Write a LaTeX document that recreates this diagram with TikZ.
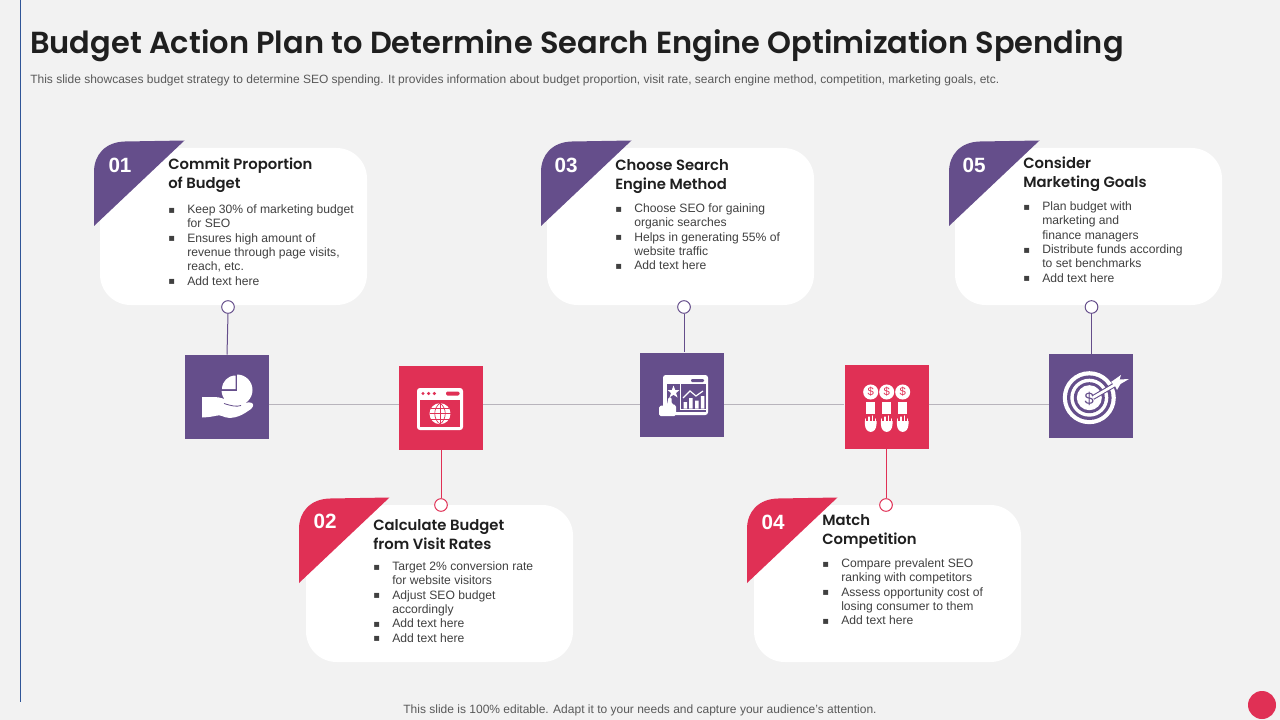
\documentclass[tikz,border=0pt]{standalone}
\usepackage{fontspec}
\setmainfont{Liberation Sans}
\newfontfamily\headf{Poppins SemiBold}
\newfontfamily\titlef{Poppins SemiBold}
\newfontfamily\symf{DejaVu Sans}
\definecolor{bgc}{HTML}{F2F2F2}
\definecolor{purp}{HTML}{654E8B}
\definecolor{crim}{HTML}{E03055}
\definecolor{bodyc}{HTML}{404040}
\definecolor{headc}{HTML}{1F1F1F}
\definecolor{subc}{HTML}{595959}
\definecolor{axisc}{HTML}{B8B4BC}
\definecolor{edgeb}{HTML}{2F5597}
\newcommand{\bl}[1]{\makebox[14.25pt][l]{\raisebox{0.3pt}{\symf\fontsize{7.5}{7.5}\selectfont ▪}}#1}
\newcommand{\cl}[1]{\hspace*{14.25pt}#1}
\tikzset{
  x=0.75pt,y=-0.75pt,
  cardbox/.style={fill=white,draw=none,rounded corners=23pt,minimum width=200.25pt,minimum height=117.75pt,inner sep=0pt},
  iconbox/.style={draw=none,minimum width=63pt,minimum height=63pt,inner sep=0pt},
  pin/.style={circle,draw=#1,fill=white,line width=0.75pt,minimum size=9.5pt,inner sep=0pt},
  stem/.style={draw=#1,line width=0.75pt},
  numtext/.style={text=white,font=\fontsize{15.5}{15.5}\selectfont\bfseries,inner sep=0pt},
  headtext/.style={text=headc,font=\headf\fontsize{11.1}{14.2}\selectfont,align=left,inner sep=0pt,anchor=north west},
  bodytext/.style={text=bodyc,font=\fontsize{9.1}{10.75}\selectfont,align=left,inner sep=0pt,anchor=north west},
}
% #1 x of lower-left tip, #2 y of lower-left tip, #3 colour
\newcommand{\cardtag}[3]{%
  \fill[#3,shift={(#1,#2)}] (0,0) -- (0,-54) .. controls (0,-71) and (11,-84) .. (31,-84.5) -- (90.5,-85.5) -- cycle;}
\begin{document}
\begin{tikzpicture}
\useasboundingbox (0,0) rectangle (1280,720);
\fill[bgc] (0,0) rectangle (1280,720);
\draw[edgeb,line width=0.75pt] (20,0) -- (20,702);
\node[anchor=west,inner sep=0pt,text=headc,font=\titlef\fontsize{22.85}{24}\selectfont] (title) at (30,46) {Budget Action Plan to Determine Search Engine Optimization Spending};
\node[anchor=west,inner sep=0pt,text=subc,font=\fontsize{9}{11}\selectfont] (subtitle) at (30,80) {This slide showcases budget strategy to determine SEO spending. It provides information about budget proportion, visit rate, search engine method, competition, marketing goals, etc.};
\node[inner sep=0pt,text=subc,font=\fontsize{9}{11}\selectfont] (footer) at (640,710) {This slide is 100\% editable. Adapt it to your needs and capture your audience's attention.};
\node[circle,fill=crim,minimum size=21pt,inner sep=0pt] (dot) at (1262,705) {};

% cards
\node[cardbox] (card1) at (233.5,226.5) {};
\node[cardbox] (card3) at (680.5,226.5) {};
\node[cardbox] (card5) at (1088.5,226.5) {};
\node[cardbox] (card2) at (439.5,583.5) {};
\node[cardbox] (card4) at (887.5,583.5) {};
\cardtag{94}{226}{purp}
\cardtag{541}{226}{purp}
\cardtag{949}{226}{purp}
\cardtag{299}{583}{crim}
\cardtag{747}{583}{crim}
\node[numtext] (n1) at (120,165) {01};
\node[numtext] (n3) at (566,165) {03};
\node[numtext] (n5) at (974,165) {05};
\node[numtext] (n2) at (325,521) {02};
\node[numtext] (n4) at (773,522) {04};

% headings
\node[headtext] (h1) at (168,158) {Commit Proportion\\of Budget};
\node[headtext] (h3) at (615,159) {Choose Search\\Engine Method};
\node[headtext] (h5) at (1023,157) {Consider\\Marketing Goals};
\node[headtext] (h2) at (373,519) {Calculate Budget\\from Visit Rates};
\node[headtext] (h4) at (822,514) {Match\\Competition};

% bodies
\node[bodytext] (b1) at (168,204.5) {\bl{Keep 30\% of marketing budget}\\\cl{for SEO}\\\bl{Ensures high amount of}\\\cl{revenue through page visits,}\\\cl{reach, etc.}\\\bl{Add text here}};
\node[bodytext] (b3) at (615,203.5) {\bl{Choose SEO for gaining}\\\cl{organic searches}\\\bl{Helps in generating 55\% of}\\\cl{website traffic}\\\bl{Add text here}};
\node[bodytext] (b5) at (1023,201.5) {\bl{Plan budget with}\\\cl{marketing and}\\\cl{finance managers}\\\bl{Distribute funds according}\\\cl{to set benchmarks}\\\bl{Add text here}};
\node[bodytext] (b2) at (373,561.5) {\bl{Target 2\% conversion rate}\\\cl{for website visitors}\\\bl{Adjust SEO budget}\\\cl{accordingly}\\\bl{Add text here}\\\bl{Add text here}};
\node[bodytext] (b4) at (822,558.5) {\bl{Compare prevalent SEO}\\\cl{ranking with competitors}\\\bl{Assess opportunity cost of}\\\cl{losing consumer to them}\\\bl{Add text here}};

% icon squares and pins
\coordinate (axis) at (0,404);
\node[iconbox,fill=purp] (sq1) at (227,397) {};
\node[iconbox,fill=crim] (sq2) at (441,408) {};
\node[iconbox,fill=purp] (sq3) at (682,394.5) {};
\node[iconbox,fill=crim] (sq4) at (886.5,407) {};
\node[iconbox,fill=purp] (sq5) at (1091,396) {};
\node[pin=purp] (p1) at (228,307) {};
\node[pin=purp] (p3) at (684,307) {};
\node[pin=purp] (p5) at (1091.5,307) {};
\node[pin=crim] (p2) at (441,505) {};
\node[pin=crim] (p4) at (886,505) {};
\draw[stem=purp] (p1.south) -- (sq1.north);
\draw[stem=purp] (p3.south) -- (p3.south |- sq3.north);
\draw[stem=purp] (p5.south) -- (p5.south |- sq5.north);
\draw[stem=crim] (p2.north) -- (p2.north |- sq2.south);
\draw[stem=crim] (p4.north) -- (p4.north |- sq4.south);
\draw[axisc,line width=0.75pt] (sq1.east |- axis) -- (sq2.west |- axis);
\draw[axisc,line width=0.75pt] (sq2.east |- axis) -- (sq3.west |- axis);
\draw[axisc,line width=0.75pt] (sq3.east |- axis) -- (sq4.west |- axis);
\draw[axisc,line width=0.75pt] (sq4.east |- axis) -- (sq5.west |- axis);

% icon 1: hand with pie
\fill[white] (237,390) circle (15.5);
\fill[purp] (221,374) rectangle (237,390.5);
\fill[white] (235.5,389) -- (222,389) arc (180:270:13.5) -- cycle;
\fill[white] (202,397) -- (214,397) .. controls (220,397) and (226,399) .. (232,403) -- (238,405) .. controls (243,404) and (248,401) .. (252,403) .. controls (255,405) and (252,409) .. (248,411) .. controls (240,417) and (230,420) .. (222,416) .. controls (218,414) and (216,417) .. (202,417.5) -- cycle;
\draw[purp,line width=0.6pt] (224,403.5) .. controls (232,406) and (236,407) .. (241,405.5);

% icon 2: browser with globe
\fill[white,rounded corners=2.2pt] (417,388) rectangle (463,430);
\fill[crim] (420,400) rectangle (460,426.5);
\fill[crim] (423,393.5) circle (1.7) (428.6,393.5) circle (1.7) (434.4,393.5) circle (1.7);
\fill[crim,rounded corners=1pt] (446,391.5) rectangle (459.5,395.5);
\fill[white] (440,413.7) circle (10.5);
\begin{scope}[crim,line width=0.5pt]
\draw (440,403.2) -- (440,424.2);
\draw (429.5,413.7) -- (450.5,413.7);
\draw (431,408.5) -- (449,408.5) (431,419) -- (449,419);
\draw (440,403.2) .. controls (433,408) and (433,419) .. (440,424.2);
\draw (440,403.2) .. controls (447,408) and (447,419) .. (440,424.2);
\end{scope}

% icon 3: chart window with thumb
\fill[white,rounded corners=2pt] (663,375) rectangle (708,415);
\fill[purp,rounded corners=0.8pt] (691,379) rectangle (704,382);
\fill[purp] (667,384) rectangle (705.5,412);
\fill[white] (680,384) rectangle (681,410);
\fill[white] (680,409) rectangle (705.5,410);
\fill[white] (673.5,385.5) -- (675.2,390) -- (679.5,390) -- (676,393) -- (677.5,397.5) -- (673.5,394.8) -- (669.5,397.5) -- (671,393) -- (667.5,390) -- (671.8,390) -- cycle;
\fill[white] (683.5,402) rectangle (687,408.5) (689.2,398) rectangle (692.7,408.5) (695,400.5) rectangle (698.5,408.5) (700.8,396) rectangle (704.3,408.5);
\draw[white,line width=0.9pt] (683,398) -- (690,391) -- (696,396) -- (703,391);
\fill[white,rounded corners=1.2pt] (659,406) -- (667,405) -- (668.5,397) -- (671.5,397) -- (671.5,404) -- (676,405) -- (676,416) -- (659,416) -- cycle;

% icon 4: coins and hands
\foreach \cx/\idn in {870.7/a,886.7/b,902.7/c}{
  \node[circle,fill=white,minimum size=11.3pt,inner sep=0pt,text=crim,font=\fontsize{8.5}{8.5}\selectfont] (coin\idn) at (\cx,392) {\$};
  \fill[white] (\cx-4.3,401.5) rectangle (\cx+3.9,414);
  \fill[white] (\cx-5.8,424) .. controls (\cx-5.8,434.5) and (\cx+5.8,434.5) .. (\cx+5.8,424) -- (\cx+5.8,421) -- (\cx-5.8,421) -- cycle;
  \draw[white,line width=1pt,line cap=round] (\cx-5.2,423) -- (\cx-5.2,419) (\cx-1.8,423) -- (\cx-1.8,417) (\cx+1.6,423) -- (\cx+1.6,416) (\cx+5,423) -- (\cx+5,419);
}

% icon 5: target with arrow
\fill[white] (1089.3,397.7) circle (26.5);
\fill[purp] (1089.3,397.7) circle (22.3);
\fill[white] (1089.3,397.7) circle (19);
\fill[purp] (1089.3,397.7) circle (15.5);
\fill[white] (1089.3,397.7) circle (12.5);
\node[inner sep=0pt,text=purp,font=\fontsize{12.5}{12.5}\selectfont] (dollar) at (1089.3,398.5) {\$};
\draw[purp,line width=3.6pt] (1093,397.5) -- (1116,384);
\draw[white,line width=2pt] (1093,397.5) -- (1117,383.5);
\fill[white] (1111,382) -- (1121,375) -- (1119.5,379.5) -- (1129,379) -- (1120.5,384) -- (1117,390) -- (1115,386) -- cycle;
\end{tikzpicture}
\end{document}
